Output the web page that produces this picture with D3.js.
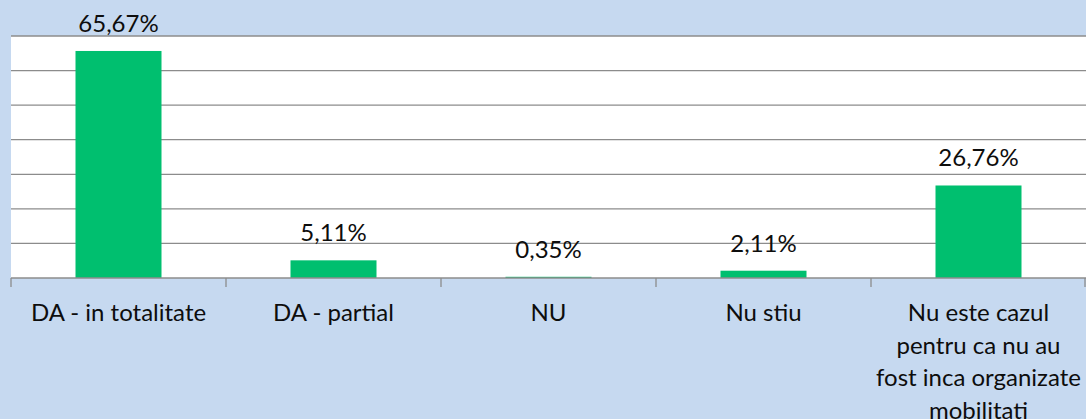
<!DOCTYPE html>
<html>
<head>
<meta charset="utf-8">
<script src="https://cdn.jsdelivr.net/npm/d3@7"></script>
<style>
  html, body { margin: 0; padding: 0; background: #c6d9f0; }
  svg { display: block; font-family: Lato, "Liberation Sans", sans-serif; }
</style>
</head>
<body>
<svg id="chart"></svg>
<script>
// categories, as shown under the axis (already broken into lines)
var categories = ['DA - in totalitate', 'DA - partial', 'NU', 'Nu stiu', 'Nu este cazul']
var categoryLines = [
  ['DA - in totalitate'],
  ['DA - partial'],
  ['NU'],
  ['Nu stiu'],
  ['Nu este cazul', 'pentru ca nu au', 'fost inca organizate', 'mobilitati']
]
var values = [65.67, 5.11, 0.35, 2.11, 26.76]
var yTicks = [0, 10, 20, 30, 40, 50, 60, 70]

;(function () {
  var width = 1086
  var height = 419
  var margin = {top: 36, bottom: 141, left: 11, right: 0}
  var innerw = width - margin.left - margin.right
  var innerh = height - margin.top - margin.bottom

  var svg = d3.select('#chart')
      .attr('width', width)
      .attr('height', height)

  svg.append('rect')
      .attr('width', width)
      .attr('height', height)
      .style('fill', '#c6d9f0')

  var g = svg.append('g')
      .attr('transform', `translate(${margin.left},${margin.top})`)

  // plot area
  g.append('rect')
      .attr('width', innerw)
      .attr('height', innerh)
      .style('fill', '#ffffff')

  // scales
  var mapcat = d3.scaleBand()
      .domain(categories)
      .range([0, innerw])
      .padding(0)

  var mapx = d3.scaleBand()
      .domain(categories)
      .range([0, innerw])
      .paddingInner(0.6)
      .paddingOuter(0.3)

  var mapy = d3.scaleLinear()
      .domain([0, 70])
      .range([innerh, 0])

  // gridlines
  g.append('g').classed('grid', true)
    .selectAll('line')
    .data(yTicks.filter(d => d > 0))
    .enter().append('line')
      .attr('x1', 0)
      .attr('x2', innerw)
      .attr('y1', d => mapy(d))
      .attr('y2', d => mapy(d))
      .style('stroke', '#8c8c8c')
      .style('stroke-width', 1.3)

  // bars
  g.append('g').classed('bars', true)
    .selectAll('rect')
    .data(values)
    .enter().append('rect')
      .attr('x', (d, i) => mapx(categories[i]))
      .attr('width', mapx.bandwidth())
      .attr('y', d => mapy(d))
      .attr('height', d => innerh - mapy(d))
      .style('fill', '#00bf6f')

  // value labels
  g.append('g').classed('values', true)
    .selectAll('text')
    .data(values)
    .enter().append('text')
      .attr('x', (d, i) => mapx(categories[i]) + mapx.bandwidth() / 2)
      .attr('y', d => mapy(d) - 19)
      .attr('text-anchor', 'middle')
      .style('font-size', '24px')
      .style('fill', '#0d0d0d')
      .text(d => d.toFixed(2).replace('.', ',') + '%')

  // x axis: line plus ticks on the band boundaries
  var ax = g.append('g').classed('ax x', true)
      .attr('transform', `translate(0,${innerh})`)

  ax.append('line')
      .attr('x1', 0)
      .attr('x2', innerw)
      .style('stroke', '#8c8c8c')
      .style('stroke-width', 1.3)

  var bounds = categories.map(c => mapcat(c)).concat([innerw])
  ax.selectAll('.tick')
    .data(bounds)
    .enter().append('line')
      .classed('tick', true)
      .attr('x1', d => Math.min(d, innerw - 1))
      .attr('x2', d => Math.min(d, innerw - 1))
      .attr('y1', 0)
      .attr('y2', 9)
      .style('stroke', '#8c8c8c')
      .style('stroke-width', 1.3)

  // category labels
  var labels = ax.selectAll('.cat')
    .data(categoryLines)
    .enter().append('text')
      .classed('cat', true)
      .attr('text-anchor', 'middle')
      .style('font-size', '24px')
      .style('fill', '#0d0d0d')

  labels.selectAll('tspan')
    .data((d, i) => d.map(line => ({line: line, i: i})))
    .enter().append('tspan')
      .attr('x', d => mapcat(categories[d.i]) + mapcat.bandwidth() / 2)
      .attr('y', (d, j) => 43 + j * 32.5)
      .text(d => d.line)
})()
</script>
</body>
</html>
